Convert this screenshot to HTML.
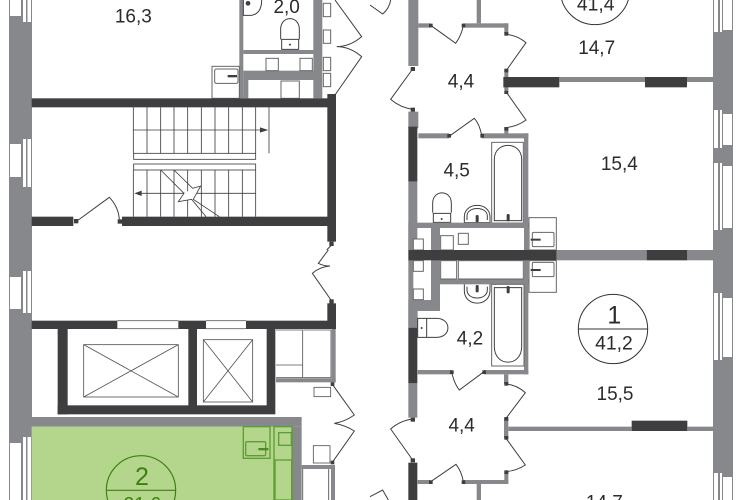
<!DOCTYPE html>
<html><head><meta charset="utf-8"><style>
html,body{margin:0;padding:0;background:#fff;width:741px;height:500px;overflow:hidden}
svg{display:block;filter:blur(.35px)}
text{font-family:"Liberation Sans",sans-serif;fill:#2b2b2d;text-anchor:middle}
.g{fill:#87888b}.d{fill:#3e3e40}
.l{fill:none;stroke:#3e3e40;stroke-width:3}
.t{fill:#fff;stroke:#666;stroke-width:3}
.w{fill:#fff}
.gl{fill:#b3d68c;stroke:#5f9c35;stroke-width:4}
</style></head><body>
<svg width="741" height="500" viewBox="0 0 741 500" xmlns="http://www.w3.org/2000/svg">
<rect width="741" height="500" fill="#fff"/>
<!-- left wall -->
<rect class="g" x="9" y="0" width="23" height="500"/>
<g class="w">
<rect x="10" y="0" width="11" height="16"/><rect x="23" y="0" width="3" height="22"/><rect x="27.5" y="0" width="3.5" height="22"/>
<rect x="10" y="144" width="11" height="33"/><rect x="23" y="139" width="3" height="48"/><rect x="27.5" y="139" width="3.5" height="48"/>
<rect x="10" y="277" width="11" height="32"/><rect x="23" y="271" width="3" height="42"/><rect x="27.5" y="271" width="3.5" height="42"/>
<rect x="10" y="443" width="11" height="57"/><rect x="23" y="437" width="3" height="63"/><rect x="27.5" y="437" width="3.5" height="63"/>
</g>
<!-- right wall -->
<rect class="g" x="713" y="0" width="20" height="500"/>
<g class="w">
<rect x="723" y="0" width="9" height="30"/><rect x="714" y="0" width="4" height="32"/><rect x="720" y="0" width="2" height="32"/>
<rect x="723" y="114" width="9" height="31"/><rect x="714" y="110" width="4" height="38"/><rect x="720" y="110" width="2" height="38"/>
<rect x="723" y="166" width="9" height="62"/><rect x="714" y="163" width="4" height="67"/><rect x="720" y="163" width="2" height="67"/>
<rect x="723" y="298" width="9" height="59"/><rect x="714" y="293" width="4" height="67"/><rect x="720" y="293" width="2" height="67"/>
<rect x="723" y="477" width="9" height="23"/><rect x="714" y="473" width="4" height="27"/><rect x="720" y="473" width="2" height="27"/>
</g>
<!-- top-left quadrant -->
<g transform="scale(.33333)">
<rect class="g" x="718" y="0" width="12" height="295"/>
<rect class="g" x="730" y="150" width="215" height="12"/>
<rect class="g" x="730" y="212" width="215" height="28"/>
<rect class="g" x="730" y="240" width="15" height="55"/>
<rect class="g" x="940" y="0" width="27" height="295"/>
<rect class="t" x="970" y="10" width="22" height="40"/><rect class="t" x="970" y="90" width="22" height="40"/><rect class="t" x="970" y="172" width="22" height="40"/><rect class="t" x="970" y="220" width="22" height="40"/>
<path class="l" d="M1005 0L1085 110Q1050 140 1010 140Q1050 140 1085 170L1005 285"/>
<rect class="t" x="798" y="175" width="37" height="37"/><rect class="t" x="900" y="175" width="37" height="37"/>
<rect class="t" x="843" y="243" width="55" height="52"/>
<rect class="t" x="636" y="199" width="82" height="96"/>
<rect class="t" x="644" y="207" width="70" height="43" rx="5"/>
<rect class="d" x="683" y="225" width="28" height="7"/>
<path class="l" d="M730 0V46H755Q785 40 785 0"/>
<circle class="d" cx="744" cy="10" r="7"/>
<path class="l" d="M842 118V88C842 45 898 45 898 88V118M845 118H896V148H845Z"/>
<circle class="d" cx="870" cy="134" r="3"/>
<rect class="d" x="95" y="295" width="905" height="27"/>
<rect class="d" x="982" y="282" width="26" height="443"/>
<rect class="d" x="95" y="650" width="125" height="28"/>
<rect class="d" x="366" y="650" width="620" height="28"/>
<rect class="d" x="222" y="657" width="13" height="13"/><rect class="d" x="353" y="658" width="13" height="13"/>
<rect class="d" x="988" y="725" width="13" height="13"/>
<path class="l" d="M235 660L328 592Q355 620 358 658M995 735L980 750"/>
<g class="l" style="stroke-width:2.5">
<path d="M400 322V460M441 322V460M482 322V460M522 322V460M563 322V460M604 322V460M645 322V460M686 322V460M727 322V460M767 322V460M807 322V460M400 390H785"/>
<rect x="401" y="460" width="366" height="18"/><rect x="401" y="492" width="366" height="18"/>
<path d="M400 510V650M441 510V650M482 510V650M522 510V650M563 510V650M604 510V650M645 510V650M686 510V650M727 510V650M767 510V650M425 580H767"/>
</g>
<path class="d" d="M780 382L805 390L780 398ZM403 580L425 572V588Z"/>
<path d="M552 580L535 605L575 598L580 598L602 558L578 565L552 580Z" fill="#fff"/>
<path d="M482 510L552 580L535 605L575 598L618 650M522 510L578 565L602 558L580 598L658 650" fill="none" stroke="#3e3e40" stroke-width="2.5"/>
<text x="400" y="67" font-size="57">16,3</text>
<text x="860" y="39" font-size="57">2,0</text>
</g>
<!-- bottom-left quadrant -->
<g transform="translate(0,250) scale(.33333)">
<rect class="d" x="95" y="212" width="257" height="25"/>
<rect class="d" x="535" y="212" width="83" height="25"/>
<rect class="d" x="738" y="212" width="270" height="25"/>
<path d="M352 212H535M352 236H535M618 212H738M618 236H738" stroke="#777" stroke-width="3" fill="none"/>
<rect class="d" x="982" y="160" width="26" height="77"/>
<rect class="d" x="988" y="148" width="13" height="13"/>
<path class="l" d="M985 0L955 40Q970 48 990 48Q960 50 937 70L993 150"/>
<rect class="d" x="173" y="237" width="30" height="256"/>
<rect class="d" x="173" y="466" width="653" height="27"/>
<rect class="d" x="565" y="237" width="26" height="230"/>
<rect class="d" x="800" y="237" width="26" height="230"/>
<g fill="none" stroke="#555" stroke-width="2.5">
<rect x="251" y="284" width="284" height="157"/><path d="M251 284L535 441M535 284L251 441"/>
<rect x="610" y="269" width="148" height="187"/><path d="M610 269L758 456M758 269L610 456"/>
<path d="M828 240H908V383H828M828 345H908M910 240H993V383H910"/>
<rect x="942" y="412" width="50" height="28"/>
<rect x="940" y="587" width="50" height="52"/>
</g>
<rect class="g" x="995" y="237" width="12" height="160"/>
<rect class="g" x="828" y="385" width="179" height="12"/>
<rect class="d" x="992" y="397" width="11" height="11"/><rect class="d" x="992" y="632" width="11" height="11"/>
<path class="l" d="M997 403L1063 495Q1035 515 1003 520Q1035 525 1063 543L997 637"/>
<rect class="g" x="95" y="501" width="810" height="29"/>
<rect x="95" y="530" width="781" height="220" fill="#b3d68c"/>
<rect class="g" x="876" y="530" width="29" height="220"/>
<rect class="g" x="905" y="645" width="100" height="12"/>
<rect class="g" x="993" y="657" width="12" height="93"/>
<path d="M986 657V750M908 657V750" stroke="#666" stroke-width="3" fill="none"/>
<rect class="gl" x="730" y="530" width="80" height="95"/>
<rect class="gl" x="737" y="575" width="60" height="42" rx="4"/>
<rect x="775" y="594" width="30" height="7" fill="#4e8a24"/>
<rect class="gl" x="822" y="530" width="54" height="220"/>
<rect class="gl" x="836" y="548" width="38" height="38"/>
<rect class="gl" x="825" y="630" width="50" height="120"/>
<circle cx="423" cy="721" r="104" fill="none" stroke="#3f7f12" stroke-width="3.5"/>
<path d="M319 721H527" stroke="#3f7f12" stroke-width="3.5"/>
<text x="426" y="705" font-size="75" style="fill:#3f7f12">2</text>
<text x="427" y="782" font-size="58" style="fill:#3f7f12">21,6</text>
</g>
<!-- top-right quadrant -->
<g transform="translate(370,0) scale(.33333)">
<path fill="none" stroke="#3e3e40" stroke-width="3" d="M0 15L38 42Q58 25 62 0"/>
<rect class="g" x="115" y="0" width="30" height="198"/>
<rect class="g" x="115" y="335" width="30" height="50"/>
<rect class="d" x="115" y="380" width="27" height="165"/>
<rect class="g" x="115" y="545" width="27" height="205"/>
<rect class="g" x="320" y="0" width="13" height="70"/>
<rect class="g" x="145" y="70" width="37" height="13"/>
<rect class="g" x="280" y="70" width="135" height="13"/>
<rect class="g" x="403" y="70" width="12" height="30"/>
<rect class="g" x="403" y="210" width="12" height="60"/>
<rect class="g" x="403" y="383" width="12" height="20"/>
<rect class="g" x="145" y="400" width="92" height="15"/>
<rect class="g" x="335" y="400" width="140" height="15"/>
<rect class="g" x="462" y="400" width="13" height="350"/>
<rect class="d" x="400" y="231" width="168" height="31"/>
<rect class="g" x="568" y="231" width="260" height="15"/>
<rect class="d" x="825" y="231" width="126" height="31"/>
<rect class="g" x="951" y="231" width="80" height="15"/>
<g class="d">
<rect x="177" y="71" width="11" height="11"/><rect x="275" y="71" width="11" height="11"/>
<rect x="403" y="96" width="12" height="11"/><rect x="403" y="206" width="12" height="11"/>
<rect x="403" y="271" width="12" height="11"/><rect x="403" y="381" width="12" height="11"/>
<rect x="122" y="201" width="13" height="12"/><rect x="122" y="323" width="13" height="12"/>
<rect x="232" y="402" width="11" height="11"/><rect x="331" y="402" width="11" height="11"/>
</g>
<path class="l" d="M182 76L257 130Q275 105 280 76M408 102Q445 108 468 128L410 210M408 275L468 360Q445 378 408 383M128 207L62 298Q90 322 128 328M240 407L313 355Q330 375 335 407"/>
<rect class="t" x="365" y="427" width="95" height="242"/>
<path class="l" d="M373 662V478C373 422 455 422 455 478V662Z"/>
<rect class="d" x="410" y="642" width="9" height="22" rx="4"/>
<path class="l" d="M283 668V650C283 605 360 605 360 650V668Z M291 660V648C291 618 352 618 352 648V660"/>
<rect class="d" x="317" y="645" width="9" height="22" rx="4"/>
<path class="l" d="M188 638V610C188 568 244 568 244 610V638M190 640H242V667H190Z"/>
<circle class="d" cx="215" cy="657" r="3"/>
<rect class="g" x="115" y="668" width="360" height="16"/>
<rect class="g" x="115" y="684" width="15" height="66"/>
<rect class="g" x="183" y="684" width="27" height="66"/>
<rect class="t" x="130" y="717" width="30" height="33"/>
<rect class="t" x="212" y="707" width="38" height="43"/>
<rect class="t" x="265" y="700" width="30" height="33"/>
<rect class="t" x="477" y="653" width="82" height="97"/>
<rect class="t" x="487" y="697" width="65" height="43" rx="4"/>
<rect class="d" x="482" y="716" width="30" height="6"/>
<circle cx="675" cy="-30" r="104" fill="none" stroke="#333" stroke-width="3"/>
<text x="677" y="31" font-size="58">41,4</text>
<text x="680" y="162" font-size="57">14,7</text>
<text x="273" y="263" font-size="57">4,4</text>
<text x="260" y="530" font-size="57">4,5</text>
<text x="748" y="510" font-size="57">15,4</text>
</g>
<!-- bottom-right quadrant -->
<g transform="translate(370,250) scale(.33333)">
<rect class="g" x="115" y="30" width="15" height="200"/>
<rect class="g" x="115" y="150" width="95" height="33"/>
<rect class="g" x="183" y="30" width="27" height="150"/>
<rect class="g" x="210" y="88" width="265" height="15"/>
<rect class="g" x="462" y="30" width="13" height="343"/>
<rect class="g" x="115" y="183" width="28" height="50"/>
<rect class="d" x="115" y="233" width="27" height="167"/>
<rect class="g" x="115" y="400" width="27" height="103"/>
<rect class="d" x="115" y="638" width="27" height="112"/>
<rect class="g" x="143" y="360" width="102" height="13"/>
<rect class="g" x="342" y="360" width="133" height="13"/>
<rect class="g" x="402" y="373" width="13" height="29"/>
<rect class="g" x="402" y="505" width="13" height="60"/>
<rect class="g" x="403" y="665" width="12" height="37"/>
<rect class="g" x="143" y="690" width="39" height="12"/>
<rect class="g" x="280" y="690" width="135" height="12"/>
<rect class="g" x="320" y="702" width="13" height="48"/>
<rect class="d" x="115" y="0" width="445" height="31"/>
<rect class="g" x="560" y="0" width="270" height="31"/>
<rect class="d" x="830" y="0" width="122" height="31"/>
<rect class="g" x="952" y="0" width="80" height="31"/>
<rect class="g" x="415" y="530" width="370" height="13"/>
<rect class="d" x="785" y="512" width="167" height="31"/>
<rect class="g" x="952" y="530" width="80" height="13"/>
<g class="d">
<rect x="240" y="361" width="11" height="11"/><rect x="337" y="361" width="11" height="11"/>
<rect x="403" y="396" width="12" height="11"/><rect x="403" y="501" width="12" height="11"/>
<rect x="403" y="558" width="12" height="11"/><rect x="403" y="661" width="12" height="11"/>
<rect x="122" y="503" width="13" height="12"/><rect x="122" y="625" width="13" height="12"/>
<rect x="177" y="691" width="11" height="11"/><rect x="275" y="691" width="11" height="11"/>
</g>
<path class="l" d="M245 365Q252 400 268 420L342 365M408 402Q440 405 466 428L408 505M408 565L466 645Q440 662 408 665M128 507Q90 512 62 537L128 630M182 695L258 643Q275 665 280 695M0 740L38 720L55 750"/>
<rect class="t" x="130" y="32" width="30" height="32"/><rect class="t" x="130" y="117" width="30" height="32"/>
<rect class="t" x="212" y="32" width="48" height="55"/><rect class="t" x="265" y="32" width="195" height="55"/>
<rect class="t" x="477" y="32" width="82" height="95"/>
<rect class="t" x="487" y="37" width="65" height="43" rx="4"/>
<rect class="d" x="482" y="57" width="30" height="6"/>
<rect class="t" x="365" y="103" width="97" height="245"/>
<path class="l" d="M373 113H455V290C455 352 373 352 373 290Z"/>
<rect class="d" x="410" y="108" width="9" height="22" rx="4"/>
<path class="l" d="M283 103V122C283 172 360 172 360 122V103M291 110V120C291 152 352 152 352 120V110"/>
<rect class="d" x="317" y="105" width="9" height="22" rx="4"/>
<path class="l" d="M170 205H200C245 205 245 262 200 262H170M143 205H170V262H143Z"/>
<circle class="d" cx="155" cy="234" r="3"/>
<circle cx="729" cy="237" r="104" fill="none" stroke="#333" stroke-width="3"/>
<path d="M625 237H833" stroke="#333" stroke-width="3"/>
<text x="733" y="220" font-size="75">1</text>
<text x="732" y="298" font-size="58">41,2</text>
<text x="300" y="283" font-size="57">4,2</text>
<text x="275" y="545" font-size="57">4,4</text>
<text x="735" y="450" font-size="57">15,5</text>
<text x="703" y="775" font-size="57">14,7</text>
</g>
</svg>
</body></html>
